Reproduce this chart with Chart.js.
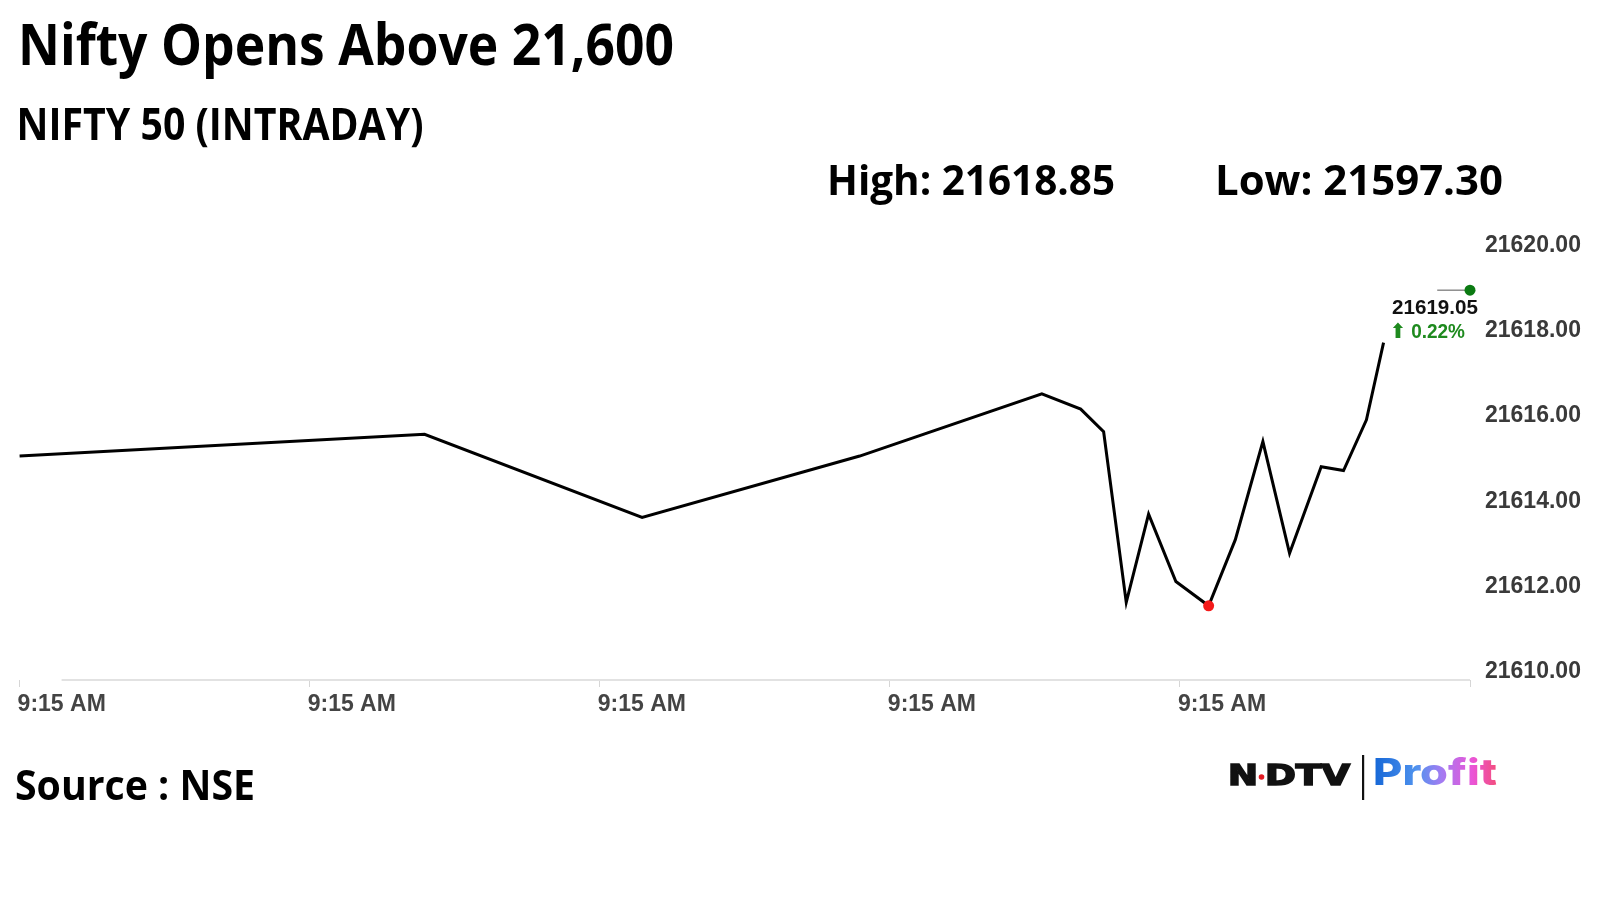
<!DOCTYPE html>
<html>
<head>
<meta charset="utf-8">
<title>Nifty Opens Above 21,600</title>
<script src="https://cdn.jsdelivr.net/npm/chart.js@4.4.1/dist/chart.umd.min.js"></script>
<style>
  html, body { margin: 0; padding: 0; background: #fff; }
  #wrap { position: relative; width: 1600px; height: 900px; overflow: hidden; }
  #chart, #overlay { position: absolute; left: 0; top: 0; }
</style>
</head>
<body>
<div id="wrap">
  <canvas id="chart" width="1600" height="900"></canvas>
  <svg id="overlay" width="1600" height="900" xmlns="http://www.w3.org/2000/svg">
    <defs>
      <linearGradient id="profitGrad" x1="1373" y1="0" x2="1497" y2="0" gradientUnits="userSpaceOnUse">
        <stop offset="0" stop-color="#1466d6"/>
        <stop offset="0.35" stop-color="#4f92ee"/>
        <stop offset="0.55" stop-color="#a27cf2"/>
        <stop offset="0.8" stop-color="#ea55d8"/>
        <stop offset="1" stop-color="#f34d7c"/>
      </linearGradient>
    </defs>
    <g font-family="'Open Sans', Lato, sans-serif" font-weight="700" fill="#000">
      <text x="18" y="65" font-size="58" textLength="656" lengthAdjust="spacingAndGlyphs">Nifty Opens Above 21,600</text>
      <text x="16.5" y="140" font-size="44" textLength="407" lengthAdjust="spacingAndGlyphs">NIFTY 50 (INTRADAY)</text>
      <text x="827" y="195" font-size="40.5" textLength="288" lengthAdjust="spacingAndGlyphs">High: 21618.85</text>
      <text x="1215" y="195" font-size="40.5" textLength="288" lengthAdjust="spacingAndGlyphs">Low: 21597.30</text>
      <text x="15" y="800" font-size="42" textLength="240" lengthAdjust="spacingAndGlyphs">Source : NSE</text>
    </g>
    <g font-family="'Liberation Sans', Arial, sans-serif" font-weight="700" font-size="20.5">
      <text x="1392" y="314" fill="#111" textLength="86" lengthAdjust="spacingAndGlyphs">21619.05</text>
      <text x="1390" y="338" fill="#1e8a1e" textLength="75" lengthAdjust="spacingAndGlyphs"><tspan font-family="'DejaVu Sans', sans-serif" font-weight="700">⬆</tspan> 0.22%</text>
    </g>
    <!-- NDTV Profit logo -->
    <g font-family="'DejaVu Sans', sans-serif" font-weight="700" font-size="27.5" fill="#111" stroke="#111" stroke-width="1.6">
      <text x="1228" y="785" textLength="30" lengthAdjust="spacingAndGlyphs">N</text>
      <text x="1265" y="785" textLength="85" lengthAdjust="spacingAndGlyphs">DTV</text>
    </g>
    <circle cx="1261.5" cy="777" r="2.8" fill="#e31b23"/>
    <rect x="1362" y="755" width="2.2" height="45" fill="#111"/>
    <text x="1373" y="785" font-family="Inter, Lato, sans-serif" font-weight="800" font-size="37" fill="url(#profitGrad)" textLength="124" lengthAdjust="spacingAndGlyphs">Profit</text>
  </svg>
</div>
<script>
// intraday points (x in tick units, ticks labelled 9:15 AM)
const timeX = [0, 1.396, 2.146, 2.896, 3.524, 3.658, 3.737, 3.815, 3.892, 3.986, 4.099, 4.191, 4.286, 4.378, 4.487, 4.564, 4.643, 4.702];
const niftyValues = [21615.06, 21615.57, 21613.62, 21615.06, 21616.52, 21616.16, 21615.63, 21611.63, 21613.70, 21612.12, 21611.55, 21613.10, 21615.40, 21612.78, 21614.81, 21614.72, 21615.91, 21617.72];

// last traded price marker
const lastX = [4.887, 5.0];
const lastValues = [21618.95, 21618.95];

const xTickLabels = ['9:15 AM', '9:15 AM', '9:15 AM', '9:15 AM', '9:15 AM', ''];
const yTickValues = [21610, 21612, 21614, 21616, 21618, 21620];

const lowIdx = niftyValues.indexOf(Math.min(...niftyValues));
const tickFont = { family: "'Liberation Sans', Arial, sans-serif", size: 23, weight: 'bold' };

// axis base line starts a little right of the first tick, like the original
const baseLine = {
    id: 'baseLine',
    afterDraw(chart) {
        const { ctx, chartArea } = chart;
        ctx.save();
        ctx.strokeStyle = '#e2e2e2';
        ctx.lineWidth = 2;
        ctx.beginPath();
        ctx.moveTo(chartArea.left + 42, chartArea.bottom);
        ctx.lineTo(chartArea.right, chartArea.bottom);
        ctx.stroke();
        ctx.restore();
    }
};

new Chart(document.getElementById('chart'), {
    type: 'line',
    data: {
        datasets: [{
            data: timeX.map((x, i) => ({ x: x, y: niftyValues[i] })),
            borderColor: '#000',
            borderWidth: 3,
            tension: 0,
            clip: false,
            pointRadius: ctx => ctx.dataIndex === lowIdx ? 5.5 : 0,
            pointBackgroundColor: '#f41a1a',
            pointBorderWidth: 0
        }, {
            data: lastX.map((x, i) => ({ x: x, y: lastValues[i] })),
            borderColor: '#555',
            borderWidth: 1,
            clip: false,
            pointRadius: [0, 5.5],
            pointBackgroundColor: '#0b7a12',
            pointBorderWidth: 0
        }]
    },
    options: {
        responsive: false,
        animation: false,
        layout: { padding: { left: 19.6, right: 0, top: 230, bottom: 176 } },
        plugins: { legend: { display: false }, tooltip: { enabled: false } },
        scales: {
            x: {
                type: 'linear',
                min: 0,
                max: 5,
                afterBuildTicks: s => { s.ticks = xTickLabels.map((_, i) => ({ value: i })); },
                afterFit: s => { s.height = 44; },
                ticks: {
                    align: 'start',
                    padding: 4,
                    labelOffset: -2,
                    maxRotation: 0,
                    autoSkip: false,
                    color: '#444',
                    font: tickFont,
                    callback: (v, i) => xTickLabels[i]
                },
                grid: { drawOnChartArea: false, drawTicks: true, tickLength: 7, color: '#d6d6d6' },
                border: { display: false }
            },
            y: {
                position: 'right',
                min: 21609.81,
                max: 21620.36,
                afterBuildTicks: s => { s.ticks = yTickValues.map(v => ({ value: v })); },
                afterFit: s => { s.width = 130; },
                ticks: {
                    padding: 15,
                    color: '#3a3a3a',
                    font: tickFont,
                    callback: v => v.toFixed(2)
                },
                grid: { display: false, drawTicks: false },
                border: { display: false }
            }
        }
    },
    plugins: [baseLine]
});
</script>
</body>
</html>
